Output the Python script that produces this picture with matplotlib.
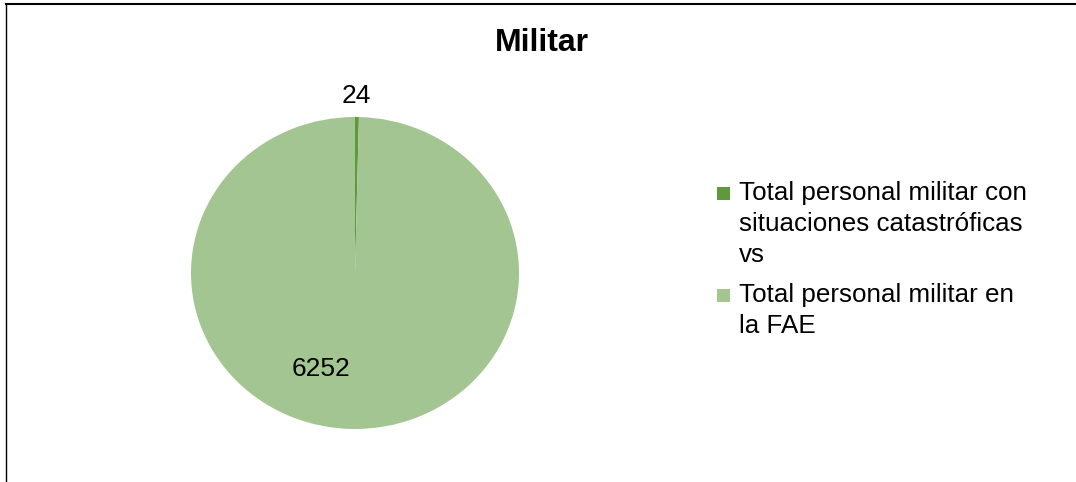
import matplotlib
matplotlib.use("Agg")
import matplotlib.pyplot as plt
from matplotlib.lines import Line2D
from matplotlib.patches import Rectangle

plt.rcParams['font.family'] = ['Liberation Sans', 'DejaVu Sans']

title = "Militar"
categories = ["Total personal militar con\nsituaciones catastróficas\nvs",
              "Total personal militar en\nla FAE"]
values = [24, 6252]
colors = ["#5E9A3C", "#A3C592"]

W, H = 1076, 482
fig = plt.figure(figsize=(W / 100, H / 100), dpi=100)

# pie area (pixels): x 191-519, y 117-429
x0, x1, y0, y1 = 191, 519, 117, 429
ax = fig.add_axes([x0 / W, 1 - y1 / H, (x1 - x0) / W, (y1 - y0) / H])
wedges, texts = ax.pie(values, colors=colors, startangle=90, counterclock=False,
                       labels=[str(v) for v in values], labeldistance=1.0,
                       wedgeprops=dict(linewidth=0),
                       textprops=dict(fontsize=19, color="black"))
ax.set_aspect("auto")
ax.set_xlim(-1, 1)
ax.set_ylim(-1, 1)
texts[0].set_position((0.006, 1.135))
texts[0].set_ha("center"); texts[0].set_va("center")
texts[1].set_position((-0.207, -0.615))
texts[1].set_ha("center"); texts[1].set_va("center")

fig.text(542 / W, 1 - 43 / H, title, ha="center", va="center",
         fontsize=23, fontweight="bold")

# legend (drawn manually, Excel style: marker aligned with first line)
first_baselines = [200, 302]
pitch = 31
for cat, col, b0 in zip(categories, colors, first_baselines):
    fig.add_artist(Rectangle((717 / W, 1 - b0 / H), 13 / W, 13 / H,
                             facecolor=col, edgecolor="none",
                             transform=fig.transFigure))
    for i, line in enumerate(cat.split("\n")):
        fig.text(739 / W, 1 - (b0 + i * pitch) / H, line, ha="left",
                 va="baseline", fontsize=18.7)

# chart frame
fig.add_artist(Line2D([6 / W, 1], [1 - 3.5 / H, 1 - 3.5 / H], color="black", lw=1.5,
                      transform=fig.transFigure))
fig.add_artist(Line2D([6 / W, 6 / W], [0, 1 - 3.5 / H], color="black", lw=1.0,
                      transform=fig.transFigure))

fig.savefig("out.png", dpi=100)
